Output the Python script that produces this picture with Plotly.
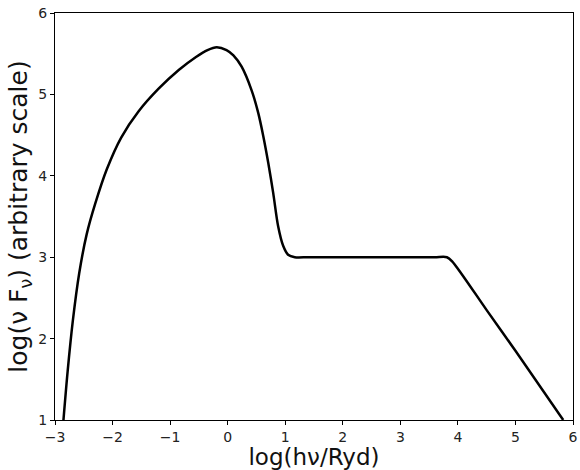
import plotly.graph_objects as go

log_energy = [-2.853, -2.78, -2.69, -2.58, -2.45, -2.3, -2.1, -1.85, -1.55, -1.2,
              -0.85, -0.55, -0.35, -0.19, -0.02, 0.1, 0.243, 0.416, 0.532, 0.618,
              0.705, 0.791, 0.877, 0.964, 1.05, 1.166, 1.4, 2.0, 3.0, 3.6, 3.81, 3.9, 4.5, 5.0, 5.83]
log_flux = [1.0, 1.60, 2.22, 2.80, 3.28, 3.66, 4.08, 4.47, 4.79, 5.07,
            5.30, 5.46, 5.545, 5.58, 5.545, 5.48, 5.34, 5.05, 4.77, 4.49,
            4.16, 3.79, 3.38, 3.14, 3.03, 3.0, 3.0, 3.0, 3.0, 3.0, 3.0, 2.95, 2.35, 1.85, 1.0]

x_ticks = [-3, -2, -1, 0, 1, 2, 3, 4, 5, 6]
x_ticklabels = ["\u22123", "\u22122", "\u22121", "0", "1", "2", "3", "4", "5", "6"]
y_ticks = [1, 2, 3, 4, 5, 6]

fig = go.Figure()
fig.add_trace(go.Scatter(
    x=log_energy, y=log_flux, mode="lines",
    line=dict(color="black", width=2.5, shape="spline", smoothing=0.8),
    showlegend=False, hoverinfo="skip",
))

axis_common = dict(
    showgrid=False, zeroline=False, showline=True, linecolor="black", linewidth=1,
    mirror=True, ticks="outside", ticklen=4, tickwidth=1, tickcolor="black",
    tickfont=dict(family="DejaVu Sans", size=14, color="#222"),
)
fig.update_xaxes(range=[-3, 6], tickvals=x_ticks, ticktext=x_ticklabels,
                 title=dict(text="log(h\u03bd/Ryd)", font=dict(family="DejaVu Sans", size=23, color="#111"), standoff=2),
                 **axis_common)
fig.update_yaxes(range=[1, 6], tickvals=y_ticks,
                 title=dict(text="log(\u03bd F<sub>\u03bd</sub>) (arbitrary scale)", font=dict(family="DejaVu Sans", size=25, color="#111"), standoff=3),
                 **axis_common)
fig.update_layout(
    width=580, height=470,
    margin=dict(l=55, r=7, t=13, b=50, autoexpand=False),
    paper_bgcolor="white", plot_bgcolor="white",
)
fig.write_html("out.html")
